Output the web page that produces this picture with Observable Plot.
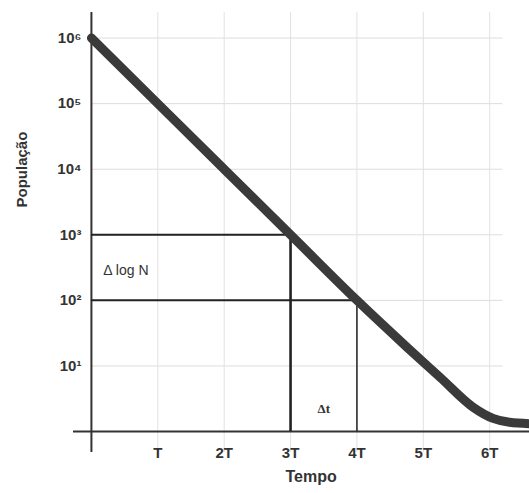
<!DOCTYPE html>
<html><head><meta charset="utf-8">
<script src="https://cdn.jsdelivr.net/npm/d3@7"></script>
<script src="https://cdn.jsdelivr.net/npm/@observablehq/plot@0.6"></script>
<style>body{margin:0;background:#fff;} svg{display:block;}</style>
</head><body><div id="chart"></div>
<script>
// Data (time in units of T, population N)
const timeT = [0, 1, 2, 3, 4, 4.76, 5.26, 5.75, 6.05, 6.3, 6.6];
const population = [1e6, 1e5, 1e4, 1e3, 1e2, 10**1.28, 10**0.82, 10**0.37, 10**0.2, 10**0.14, 10**0.12];
const xTicks = [1, 2, 3, 4, 5, 6];
const xTickLabels = ["T", "2T", "3T", "4T", "5T", "6T"];
const yTicks = [1e1, 1e2, 1e3, 1e4, 1e5, 1e6];
const yTickLabels = ["10¹", "10²", "10³", "10⁴", "10⁵", "10⁶"];
// Δ construction
const refT = [3, 4];
const refN = [1e3, 1e2];

const curve = timeT.map((t, i) => ({t, n: population[i]}));
const refs = refT.map((t, i) => ({t, n: refN[i], w: i === 0 ? 2.6 : 1.5}));

const font = "Liberation Sans, Arial, sans-serif";
const chart = Plot.plot({
  width: 529, height: 493,
  marginLeft: 73, marginRight: 0, marginTop: 12, marginBottom: 41,
  style: {fontFamily: font, background: "#fff"},
  x: {domain: [-0.27, 6.6], axis: null},
  y: {type: "log", domain: [10**-0.32, 10**6.39], axis: null},
  marks: [
    // faint grid
    Plot.ruleY(yTicks, {x1: 0, x2: 6.2, stroke: "#ddd", strokeWidth: 1}),
    Plot.ruleX(xTicks, {stroke: "#e2e2e2", strokeWidth: 1}),
    // axes
    Plot.ruleX([0], {stroke: "#333", strokeWidth: 2}),
    Plot.ruleY([1], {stroke: "#333", strokeWidth: 2}),
    // reference construction
    Plot.ruleY(refs, {y: "n", x1: 0, x2: "t", stroke: "#222", strokeWidth: 2}),
    Plot.ruleX(refs, {x: "t", y1: 1, y2: "n", stroke: "#222", strokeWidth: "w"}),
    // decay curve
    Plot.line(curve, {x: "t", y: "n", curve: "monotone-x", stroke: "#3a3a3a", strokeWidth: 9, strokeLinecap: "round"}),
    // tick labels
    Plot.text(yTicks, {x: 0, y: d => d, text: (d, i) => yTickLabels[i], textAnchor: "end", dx: -10, fontSize: 15, fontWeight: "bold", fill: "#333"}),
    Plot.text(xTicks, {x: d => d, y: 1, text: (d, i) => xTickLabels[i], dy: 22, fontSize: 15, fontWeight: "bold", fill: "#333"}),
    // annotations
    Plot.text(["Δ log N"], {x: 0.18, y: 10**2.45, text: d => d, textAnchor: "start", fontSize: 14, fill: "#333"}),
    Plot.text(["Δt"], {x: 3.5, y: 10**0.35, text: d => d, fontSize: 13, fill: "#333", fontFamily: "Liberation Serif, serif", fontWeight: "bold"}),
    // axis titles
    Plot.text(["Tempo"], {x: 3.31, frameAnchor: "bottom", dy: 29, text: d => d, fontSize: 16, fontWeight: "bold", fill: "#333"}),
    Plot.text(["População"], {frameAnchor: "left", dx: -51, dy: -25, text: d => d, rotate: -90, fontSize: 15, fontWeight: "bold", fill: "#333"})
  ]
});
document.getElementById("chart").append(chart);
</script></body></html>
